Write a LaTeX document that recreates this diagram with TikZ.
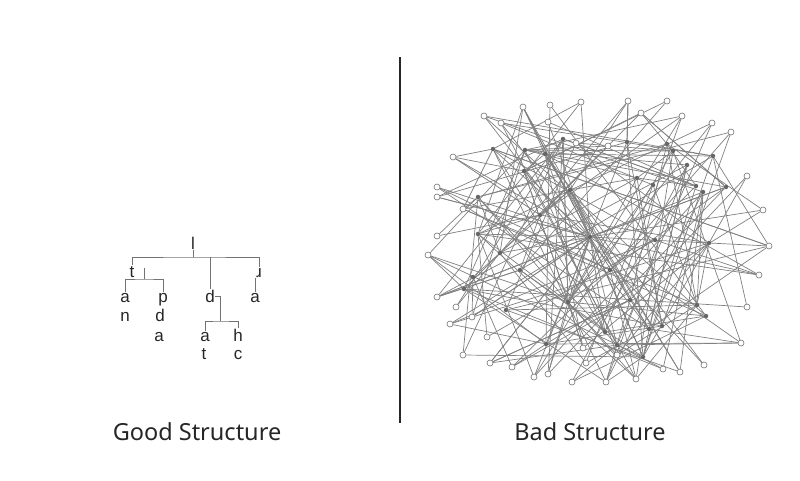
\documentclass[tikz,border=0pt]{standalone}
\usepackage{fontspec}
\setmainfont{Liberation Sans}
\newfontfamily\titlefont{Noto Sans}
\usetikzlibrary{backgrounds}

\tikzset{
  word/.style={font=\fontsize{17}{17}\selectfont, text=black!85, inner sep=0.5pt, anchor=base},
  branch/.style={draw=black!55, line width=0.8pt},
  title/.style={font=\titlefont\fontsize{23.5}{24}\selectfont, text=black!85, anchor=base},
  leaf/.style={circle, draw=black!55, fill=white, line width=0.6pt, inner sep=0pt, minimum size=6pt},
  knot/.style={circle, fill=black!60, inner sep=0pt, minimum size=4.5pt},
  link/.style={draw=black!50, line width=0.7pt},
}

\begin{document}
\begin{tikzpicture}[x=1pt,y=-1pt]
    \useasboundingbox (0,0) rectangle (800,480);

    % good structure
    \node[word] (root) at (193,249) {l};
    \node[word] (tA) at (132,277) {t};
    \node[word] (rC) at (259,277) {ɹ};
    \node[word] (a1) at (125,302) {a};
    \node[word] (n1) at (125,321) {n};
    \node[word] (p1) at (163,302) {p};
    \node[word] (d1) at (160,321) {d};
    \node[word] (a2) at (159,341) {a};
    \node[word] (dB) at (210,302) {d};
    \node[word] (a3) at (205,341) {a};
    \node[word] (t2) at (204,359) {t};
    \node[word] (h1) at (238,341) {h};
    \node[word] (c1) at (238,359) {c};
    \node[word] (a4) at (255,302) {a};

    \coordinate (j0) at (193,257);
    \coordinate (j1) at (144,279);
    \coordinate (k1) at (144,268);
    \coordinate (j2) at (220,321);

    \draw[branch] (root) -- (j0);
    \draw[branch] (tA) |- (j0) -| (rC);
    \draw[branch] (dB |- j0) -- (dB);
    \draw[branch] (k1) -- (j1);
    \draw[branch] (a1) |- (j1) -| (p1);
    \draw[branch] (dB.east) -| (j2);
    \draw[branch] (a3) |- (j2) -| (h1);
    \draw[branch] (a4) -- (a4 |- rC.south);

    \node[title] (good) at (197,440) {Good Structure};

    \draw[line width=1.5pt, black!85] (400,57) -- (400,423);

    % bad structure
    \foreach \i/\x/\y in {1/523/107, 2/550/105, 3/581/102, 4/484/116, 5/501/123,
        6/548/122, 7/576/143, 8/453/157, 9/437/187, 10/437/197, 11/463/209,
        12/437/236, 13/628/101, 14/667/101, 15/641/113, 16/682/116, 17/712/123,
        18/731/132, 19/608/146, 20/747/176, 21/763/210, 22/428/255, 23/437/297,
        24/456/307, 25/472/317, 26/450/324, 27/487/337, 28/463/355, 29/490/363,
        30/512/367, 31/534/377, 32/548/374, 33/572/382, 34/583/348, 35/586/363,
        36/769/246, 37/759/275, 38/747/307, 39/741/343, 40/617/355, 41/663/369,
        42/680/372, 43/704/365, 44/636/379, 45/606/382}
        \node[leaf] (n\i) at (\x,\y) {};
    \foreach \i/\x/\y in {46/493/149, 47/525/150, 48/545/154, 49/563/139,
        50/524/171, 51/478/197, 52/627/142, 53/667/144, 54/673/151, 55/713/156,
        56/687/165, 57/637/178, 58/653/185, 59/696/186, 60/726/187, 61/703/192,
        62/478/234, 63/500/253, 64/473/277, 65/464/289, 66/506/310, 67/546/344,
        68/568/302, 69/590/237, 70/709/243, 71/697/305, 72/706/316, 73/662/326,
        74/649/329, 75/605/332, 76/617/345, 77/643/357, 78/540/215, 79/610/270,
        80/655/240, 81/520/270, 82/630/300, 83/570/190}
        \node[knot] (n\i) at (\x,\y) {};

    \begin{pgfonlayer}{background}
        \pgfmathsetseed{11}
        \foreach \i in {1,...,45}
            \foreach \k in {1,2} {
                \pgfmathrandominteger{\j}{46}{83}
                \draw[link] (n\i) -- (n\j);
            }
        \foreach \i in {46,...,83}
            \foreach \k in {1,2,3} {
                \pgfmathrandominteger{\j}{1}{83}
                \draw[link] (n\i) -- (n\j);
            }
        \foreach \k in {1,...,30} {
            \pgfmathrandominteger{\j}{1}{83}
            \draw[link] (n69) -- (n\j);
        }
        \foreach \k in {1,...,10} {
            \pgfmathrandominteger{\j}{1}{83}
            \draw[link] (n68) -- (n\j);
        }
    \end{pgfonlayer}

    \node[title] (bad) at (590,440) {Bad Structure};

\end{tikzpicture}
\end{document}
